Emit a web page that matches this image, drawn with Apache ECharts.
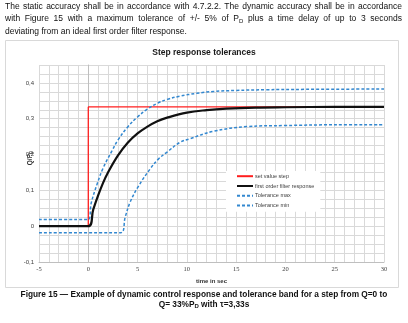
<!DOCTYPE html>
<html>
<head>
<meta charset="utf-8">
<script src="https://cdn.jsdelivr.net/npm/echarts@6/dist/echarts.min.js"></script>
<style>
  html, body { margin: 0; padding: 0; background: #fff; }
  #wrap { position: relative; width: 408px; height: 323px; overflow: hidden;
          font-family: "Liberation Sans", Arial, sans-serif; color: #111; }
  #chart { position: absolute; left: 0; top: 0; width: 408px; height: 323px; }
  .intro { position: absolute; left: 5px; top: 1.4px; width: 397px; font-size: 8.5px; line-height: 11.8px; }
  .intro div { text-align: justify; text-align-last: justify; white-space: nowrap; }
  .intro div.last { text-align: left; text-align-last: left; }
  .cap { position: absolute; left: 0; top: 290px; width: 408px; text-align: center;
         font-weight: bold; font-size: 8.3px; line-height: 9.7px; }
  .sub { font-size: 6px; position: relative; top: 1.5px; }
</style>
</head>
<body>
<div id="wrap">
  <div id="chart"></div>
  <div class="intro">
    <div>The static accuracy shall be in accordance with 4.7.2.2. The dynamic accuracy shall be in accordance</div>
    <div>with Figure 15 with a maximum tolerance of +/- 5% of P<span class="sub">D</span> plus a time delay of up to 3 seconds</div>
    <div class="last">deviating from an ideal first order filter response.</div>
  </div>
  <div class="cap">
    <div>Figure 15 — Example of dynamic control response and tolerance band for a step from Q=0 to</div>
    <div>Q= 33%P<span class="sub">D</span> with τ=3,33s</div>
  </div>
</div>
<script>
// values, [time in s, Q/PD]
const stepPoints = [[-5, 0], [0, 0], [0, 0.333], [30, 0.333]];
const responsePoints = [
  [-5, 0], [0, 0], [0.5, 0.046], [1, 0.086], [1.5, 0.121], [2, 0.150], [3, 0.197],
  [4, 0.233], [5, 0.259], [6, 0.278], [7, 0.293], [8, 0.303], [10, 0.317],
  [12, 0.324], [14, 0.328], [17, 0.331], [20, 0.332], [25, 0.333], [30, 0.333]
];
const tolMaxPoints = [
  [-5, 0.019], [0, 0.019], [0.3, 0.065], [0.9, 0.118], [1.5, 0.162], [2.4, 0.21],
  [3, 0.24], [4, 0.277], [5, 0.305], [6, 0.327], [7, 0.343], [8, 0.354],
  [9.3, 0.363], [11, 0.371], [12.7, 0.376], [15, 0.379], [18, 0.381], [22, 0.382], [30, 0.383]
];
const tolMinPoints = [
  [-5, -0.018], [3.3, -0.018], [3.75, 0.026], [4.26, 0.068], [5.1, 0.112],
  [6.28, 0.16], [7.13, 0.188], [8, 0.207], [9.3, 0.234], [10.3, 0.244],
  [12.7, 0.265], [16.1, 0.278], [20, 0.281], [25, 0.283], [30, 0.283]
];
const seriesNames = ['set value step', 'first order filter response', 'Tolerance max', 'Tolerance min'];

const font = '"Liberation Sans", Arial, sans-serif';
const blue = '#3388d0';

const chart = echarts.init(document.getElementById('chart'));
chart.setOption({
  animation: false,
  textStyle: { fontFamily: font },
  graphic: [
    {
      type: 'rect', silent: true, z: -1,
      shape: { x: 5.5, y: 40.5, width: 393, height: 247 },
      style: { fill: 'none', stroke: '#d9d9d9', lineWidth: 1 }
    },
    {
      // y axis title, rotated
      type: 'text', silent: true, x: 30, y: 158, rotation: Math.PI / 2,
      style: {
        text: '{a|Q/P}{b|D}', align: 'center', verticalAlign: 'middle',
        rich: {
          a: { fontSize: 6.5, fontWeight: 'bold', fill: '#333', fontFamily: font },
          b: { fontSize: 4.5, fontWeight: 'bold', fill: '#333', fontFamily: font, padding: [3, 0, 0, 0] }
        }
      }
    }
  ],
  title: {
    text: 'Step response tolerances', left: 'center', top: 43,
    textStyle: { fontSize: 8.5, fontWeight: 'bold', color: '#1a1a1a', fontFamily: font }
  },
  legend: {
    data: seriesNames, orient: 'vertical', left: 226, top: 171,
    itemWidth: 16, itemHeight: 8, itemGap: 3.4,
    backgroundColor: '#fff', padding: [2, 6, 3, 10],
    itemStyle: { opacity: 0 },
    textStyle: { fontSize: 5.5, color: '#404040', padding: [0, 0, 0, -3] }
  },
  grid: { left: 39, right: 24, top: 65, bottom: 61, outerBoundsMode: 'none' },
  xAxis: {
    type: 'value', min: -5, max: 30, interval: 1,
    axisLine: { onZero: false, lineStyle: { color: '#bfbfbf' } },
    axisTick: { show: false },
    axisLabel: {
      fontSize: 6.5, color: '#404040', margin: 4, fontFamily: '"Liberation Serif", serif',
      formatter: v => (Math.round(v) % 5 === 0 ? String(Math.round(v)) : '')
    },
    splitLine: { show: true, lineStyle: { color: '#d9d9d9', width: 1 } },
    name: 'time in sec', nameLocation: 'middle', nameGap: 16,
    nameTextStyle: { fontSize: 6, fontWeight: 'bold', color: '#333' }
  },
  yAxis: {
    type: 'value', min: -0.1, max: 0.45, interval: 0.025,
    axisLine: { show: true, onZero: true, lineStyle: { color: '#bfbfbf' } },
    axisTick: { show: false },
    axisLabel: {
      fontSize: 6, color: '#404040', margin: 5,
      formatter: v => {
        const t = v * 10;
        if (Math.abs(t - Math.round(t)) > 1e-6 || v > 0.41) return '';
        return String(Math.round(t) / 10).replace('.', ',');
      }
    },
    splitLine: { show: true, lineStyle: { color: '#d9d9d9', width: 1 } }
  },
  series: [
    {
      name: seriesNames[0], type: 'line', data: stepPoints, symbol: 'none', showSymbol: false,
      lineStyle: { color: '#ff1f1f', width: 1.3 }, itemStyle: { color: '#ff1f1f' }
    },
    {
      name: seriesNames[1], type: 'line', data: responsePoints, symbol: 'none', showSymbol: false,
      smooth: 0.4,
      lineStyle: { color: '#111', width: 2.2 }, itemStyle: { color: '#111' }
    },
    {
      name: seriesNames[2], type: 'line', data: tolMaxPoints, symbol: 'none', showSymbol: false,
      smooth: 0.4,
      lineStyle: { color: blue, width: 1.5, type: [3, 2] }, itemStyle: { color: blue }
    },
    {
      name: seriesNames[3], type: 'line', data: tolMinPoints, symbol: 'none', showSymbol: false,
      smooth: 0.4,
      lineStyle: { color: blue, width: 1.5, type: [3, 2] }, itemStyle: { color: blue }
    }
  ]
});
</script>
</body>
</html>
